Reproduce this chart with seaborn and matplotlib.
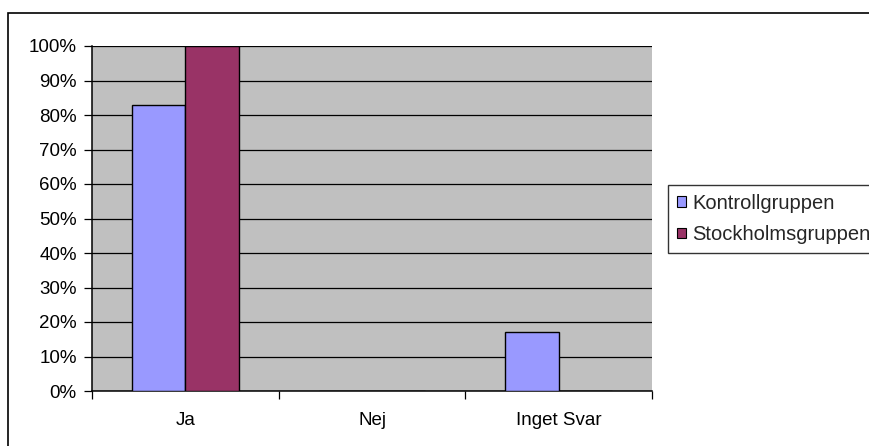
import matplotlib
matplotlib.use("Agg")
import matplotlib.pyplot as plt
import seaborn as sns
import pandas as pd
from matplotlib.patches import Rectangle
from matplotlib.ticker import FixedLocator, PercentFormatter

categories = ["Ja", "Nej", "Inget Svar"]
kontroll = [83, 0, 17]
stockholm = [100, 0, 0]
series_names = ["Kontrollgruppen", "Stockholmsgruppen"]
colors = ["#9999FF", "#993366"]

df = pd.DataFrame({
    "cat": categories * 2,
    "val": kontroll + stockholm,
    "grp": [series_names[0]] * 3 + [series_names[1]] * 3,
})

sns.set_theme(style="white")
plt.rcParams["font.family"] = ["Liberation Sans", "DejaVu Sans"]

fig = plt.figure(figsize=(8.69, 4.46), dpi=100)
ax = fig.add_axes([92/869, 1-391/446, (652-92)/869, (391-46)/446])
ax.set_facecolor("#C0C0C0")

sns.barplot(data=df, x="cat", y="val", hue="grp", order=categories,
            hue_order=series_names, palette=colors, saturation=1, width=0.57,
            edgecolor="black", linewidth=1, ax=ax, zorder=3)

ax.set_xlim(-0.5, 2.5)
ax.set_ylim(0, 100)
ax.set_yticks(range(0, 101, 10))
ax.yaxis.set_major_formatter(PercentFormatter(decimals=0))
ax.yaxis.grid(True, color="black", linewidth=0.9)
ax.set_axisbelow(True)
ax.set_xlabel("")
ax.set_ylabel("")

ax.set_xticks([0, 1, 2])
ax.set_xticklabels(categories)
ax.xaxis.set_minor_locator(FixedLocator([-0.5, 0.5, 1.5, 2.5]))
ax.tick_params(axis="x", which="major", length=0, pad=15, labelsize=13.5, colors="black")
ax.tick_params(axis="x", which="minor", length=6, width=0.9, color="black", bottom=True)
ax.tick_params(axis="y", which="major", length=6, width=0.9, color="black", left=True,
               pad=5, labelsize=13.5, labelcolor="black")

for s in ["top", "right"]:
    ax.spines[s].set_visible(False)
for s in ["left", "bottom"]:
    ax.spines[s].set_visible(True)
    ax.spines[s].set_color("black")
    ax.spines[s].set_linewidth(1.1)

leg = ax.legend(loc="upper left", bbox_to_anchor=(668/869, 1-185/446),
                bbox_transform=fig.transFigure, frameon=True, fontsize=14.5,
                handlelength=0.45, handleheight=0.45, handletextpad=0.3,
                borderpad=0.45, labelspacing=0.6, fancybox=False, borderaxespad=0)
leg.get_frame().set_edgecolor("black")
leg.get_frame().set_linewidth(1)
for h in leg.legend_handles:
    h.set_edgecolor("black")
    h.set_linewidth(0.8)

fig.patches.append(Rectangle((8/869, -0.1), 1.2, 1-13/446+0.1,
                             transform=fig.transFigure, fill=False,
                             edgecolor="black", linewidth=1.2, clip_on=False))

fig.savefig("out.png", dpi=100)
